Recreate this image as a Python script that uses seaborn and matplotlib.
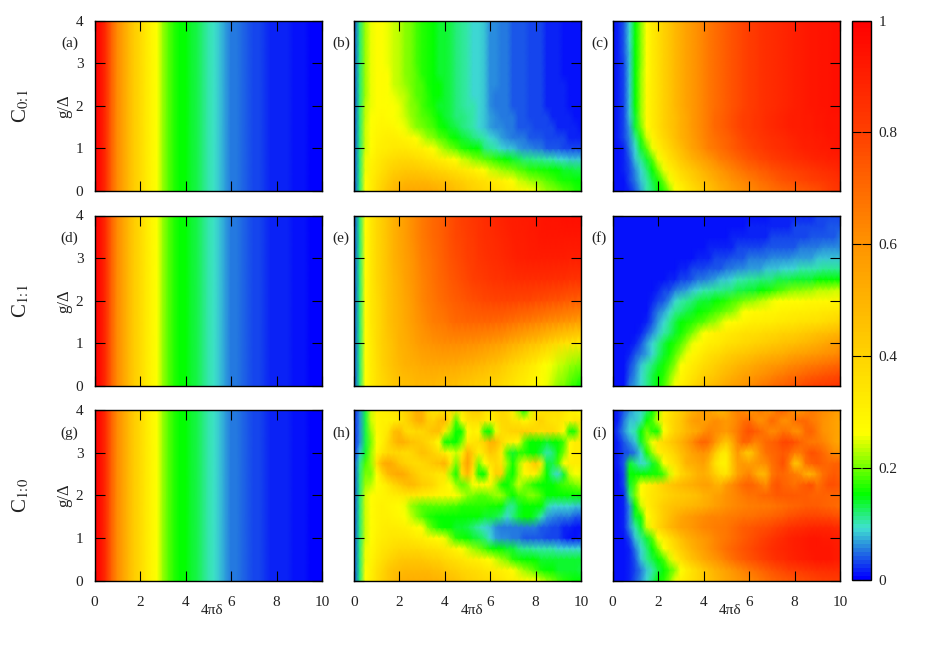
import numpy as np
import matplotlib
matplotlib.use("Agg")
import matplotlib.pyplot as plt
from matplotlib.colors import LinearSegmentedColormap
import seaborn as sns

# all maps are in percent, rows go g = 0 -> 4, columns go 4*pi*delta = 0 -> 10 in steps of 0.25
panel_adg = [100,95,85,72,62,55,48,42,38,33, 29,26,22,19,17,15.5,15,14,13,12,
             10.5,9.5,8.5,7,5.5,5,4.5,4,3.5,3, 2.5,2,2,1.5,1.5,1,1,1,.5,.5, .5]

top_b = [3,12,22,25,27,26,25,24,23,21, 20,18,17,16,15,14,14,13,12,11, 10,9,9,8,6,6,5,5,4,4, 4,3,3,3,2,2,2,1,1,1, 1]
panel_b = [
    [3,12,26,32,37,41,45,48,51,53, 54,54,54,54,53,52,51,49,47,45, 43,41,40,38,37,35,34,32,31,29, 28,26,25,23,22,21,20,19,18,17, 16],
    [3,12,26,31,35,39,42,45,47,48, 49,49,49,48,47,46,45,44,42,41, 39,38,36,35,33,32,30,28,26,24, 23,22,21,20,19,18,17,16,16,15, 15],
    [3,12,25,30,33,36,39,41,42,43, 43,43,42,41,40,39,38,36,35,33, 32,30,28,26,24,23,22,21,20,19, 18,17,17,16,16,15,15,14,14,13, 13],
    [3,12,25,29,32,34,36,37,38,38, 38,37,36,34,33,31,30,28,26,24, 23,21,20,19,18,17,16,15,14,13, 12,12,11,11,10,10,9,9,8,8, 8],
    [3,12,24,27,30,31,32,33,33,33, 32,31,30,28,26,24,22,20,19,17, 16,15,15,12,11,10,9,8,8,7, 6,6,5,5,4,4,4,3,3,3, 3],
    [3,12,24,27,29,30,31,31,30,29, 28,26,24,22,21,19,18,16,15,14, 13,12,11,10,9,8,7,6,5,5, 5,4,4,4,3,3,3,3,2,2, 2],
    [3,12,24,26,28,29,29,28,26,25, 23,21,20,19,18,16,15,14,13,12, 11,10,9,8,7,6,6,5,5,4, 4,4,3,3,3,3,2,2,2,2, 1],
    [3,12,23,26,27,28,27,26,25,24, 22,20,19,18,17,15,14,13,12,12, 11,10,9,8,7,6,5,5,5,4, 4,3,3,3,3,2,2,2,2,1, 1],
    [3,12,23,25,27,27,27,26,25,23, 21,20,18,17,16,14,14,13,12,11, 10,10,9,8,6,5,5,5,4,4, 4,3,3,3,2,2,2,2,1,1, 1],
    [3,12,22,25,27,27,26,25,24,23, 21,19,18,17,15,15,14,13,12,11, 10,9,9,8,6,5,5,5,4,4, 4,3,3,3,2,2,2,2,1,1, 1],
    [3,12,22,25,27,27,26,24,23,22, 20,19,18,16,15,15,14,13,12,11, 10,9,9,8,6,6,5,5,4,4, 4,3,3,3,2,2,2,2,1,1, 1],
    [3,12,22,25,27,27,26,24,23,21, 20,19,17,16,15,14,14,13,12,11, 10,9,9,8,6,6,5,5,4,4, 4,3,3,3,2,2,2,1,1,1, 1],
    top_b, top_b, top_b, top_b, top_b,
]

tail_c = [44,48,52,55,58,61,64,67,69,71, 73,75,77,79,81,82,84,85,86,87, 88,89,90,91,92,93,93,94,94,95, 95]
panel_c = [
    [1,1,1,2,4,7,10,12,15,17, 21,26,29,33,36,39,42,45,48,51, 54,56,58,60,62,63,65,66,68,69, 70,71,72,73,74,75,76,78,80,82, 83],
    [1,1,1,3,5,8,10,13,16,20, 25,30,34,37,40,43,46,49,52,55, 57,60,62,63,65,67,69,70,72,74, 75,76,77,78,79,80,81,82,83,84, 85],
    [1,1,2,3,6,9,12,15,20,25, 30,34,38,41,44,47,50,53,56,59, 62,64,66,68,70,71,73,74,76,77, 78,79,80,81,82,83,84,85,86,87, 88],
    [1,1,2,4,8,11,14,19,25,30, 35,39,43,47,50,53,56,59,62,65, 67,69,71,73,75,76,78,79,81,82, 83,84,85,86,87,88,89,89,90,90, 91],
    [1,1,2,5,9,14,19,25,30,35, 39,43,47,51,55,58,62,65,67,69, 71,73,75,77,78,80,81,83,84,85, 86,87,88,89,90,90,91,92,92,93, 93],
    [1,2,3,6,11,17,24,29,34,38, 42,46,50,53,57,60,63,66,68,70, 72,74,76,78,80,81,83,84,85,86, 87,88,89,90,91,91,92,92,93,93, 94],
    [1,2,3,7,14,20,27,32,36,40, 44,47,51,54,58,61,64,67,70,72, 74,76,78,80,81,83,84,86,87,88, 89,90,91,91,92,92,93,93,94,94, 94],
    [1,2,3,8,14,22,28,32,36,40, 44,47,51,54,58,61,64,67,70,72, 74,76,78,80,81,83,84,86,87,88, 89,90,91,91,92,92,93,93,94,94, 94],
    [1,2,3,8,15,22,28,32,36,40] + tail_c,
    [1,2,3,8,15,22,28,32,36,40] + tail_c,
    [1,2,3,8,15,22,28,32,36,40] + tail_c,
    [1,2,3,8,15,22,27,32,36,40] + tail_c,
    [1,2,3,8,15,21,27,32,36,40] + tail_c,
    [1,2,4,8,15,21,27,32,36,40] + tail_c,
    [1,2,4,9,15,21,27,32,36,40] + tail_c,
    [1,2,4,9,15,21,27,32,36,40] + tail_c,
    [1,2,4,9,15,21,27,32,36,40] + tail_c,
]

panel_e = [
    [3,12,26,31,35,38,41,43,45,46, 47,48,48,48,48,47,47,46,45,44, 43,42,41,40,39,38,37,35,34,32, 31,29,28,26,25,23,21,20,18,17, 15],
    [3,12,26,32,36,40,43,46,48,50, 51,52,53,54,54,54,54,53,53,52, 51,50,49,48,46,45,43,41,39,37, 35,33,31,28,26,25,24,23,22,21, 20],
    [3,12,27,32,37,41,44,47,50,52, 54,56,58,59,60,61,62,62,62,62, 61,61,60,59,58,57,56,54,52,50, 48,46,45,43,41,39,37,35,34,33, 32],
    [3,12,27,33,37,41,45,48,50,53, 56,59,61,63,65,66,67,69,70,70, 71,71,71,71,71,70,70,69,68,67, 66,65,64,63,62,61,60,59,58,57, 55],
    [3,12,27,33,37,41,45,48,51,54, 57,60,63,65,67,69,70,72,73,74, 75,76,77,78,78,79,79,79,79,78, 78,78,77,77,76,75,75,74,73,73, 72],
    [3,12,27,33,38,42,45,49,52,55, 58,61,64,66,68,70,72,74,75,77, 78,80,81,82,83,84,84,85,85,86, 86,86,86,86,86,85,85,85,84,84, 84],
    [3,12,27,33,38,42,46,50,53,56, 59,62,65,67,69,71,73,75,77,78, 80,81,83,84,85,86,87,88,89,90, 90,91,91,91,91,91,91,91,90,90, 90],
    [3,12,27,33,38,42,46,50,54,57, 60,63,66,68,70,72,74,76,78,79, 81,82,84,85,86,87,88,89,90,91, 91,92,92,93,93,93,93,93,93,93, 93],
    [3,12,27,33,38,42,46,50,54,57, 60,63,66,68,70,72,74,76,78,80, 81,83,84,86,87,88,89,90,91,91, 92,92,93,93,94,94,94,95,95,95, 95],
]

panel_f = [
    [1,1,1,5,7,9,11,13,15,18, 22,26,30,33,37,40,43,46,48,50, 53,55,57,59,61,63,65,67,69,70, 72,73,75,76,78,79,80,81,82,83, 84],
    [1,1,1,4,6,9,11,13,15,17, 20,24,28,31,34,37,40,42,44,47, 49,51,53,55,57,59,60,62,63,65, 66,68,69,70,72,73,74,75,76,77, 78],
    [1,1,1,3,5,8,10,12,14,16, 18,21,26,29,32,34,37,39,41,43, 45,47,49,50,52,54,55,57,58,59, 60,62,63,64,65,66,67,68,69,70, 71],
    [1,1,1,2,4,5,7,9,12,14, 16,19,22,25,28,30,33,35,37,38, 40,42,43,44,45,47,48,49,50,51, 52,54,55,56,57,58,59,60,61,62, 64],
    [1,1,1,1,2,4,7,9,11,13, 15,17,19,22,25,27,29,31,32,33, 35,36,37,38,39,40,41,42,43,44, 45,46,47,48,49,50,52,53,55,56, 58],
    [1,1,1,1,1,2,4,6,8,10, 12,14,16,18,20,23,26,28,30,31, 32,33,34,35,36,36,37,38,38,39, 40,40,41,42,43,44,45,46,47,48, 49],
    [1,1,1,1,1,1,2,4,7,9, 11,13,15,16,17,18,19,21,22,24, 26,27,28,29,30,31,31,32,32,33, 33,34,34,35,35,36,36,37,38,39, 40],
    [1,1,1,1,1,1,1,3,5,7, 9,11,12,13,14,15,16,17,18,19, 20,21,23,26,27,28,28,29,29,29, 30,30,31,31,31,32,32,33,33,34, 34],
    [1,1,1,1,1,1,1,2,3,4, 6,9,10,11,12,13,14,14,15,16, 17,18,19,20,21,22,23,24,25,26, 26,27,27,27,28,28,28,28,28,29, 29],
    [1,1,1,1,1,1,1,1,2,3, 3,5,6,7,8,9,10,10,11,11, 12,12,13,13,14,14,15,16,17,18, 19,20,21,21,22,22,23,23,23,24, 24],
    [1,1,1,1,1,1,1,1,1,1, 2,2,3,3,4,5,5,6,7,8, 8,9,10,10,11,11,12,12,12,13, 13,13,14,14,14,14,15,15,15,15, 15],
    [1,1,1,1,1,1,1,1,1,1, 1,1,2,2,3,3,3,4,4,4, 5,5,6,6,7,7,7,8,8,8, 9,9,9,10,10,10,10,11,11,11, 11],
    [1,1,1,1,1,1,1,1,1,1, 1,1,1,1,1,2,2,2,3,3, 3,4,4,4,5,5,5,5,6,6, 6,6,7,7,7,7,8,8,8,8, 8],
    [1,1,1,1,1,1,1,1,1,1, 1,1,1,1,1,1,1,2,2,2, 2,2,3,3,3,3,3,4,4,4, 4,4,4,5,5,5,5,6,6,6, 6],
    [1,1,1,1,1,1,1,1,1,1, 1,1,1,1,1,1,1,1,1,1, 1,2,2,2,2,2,2,2,3,3, 3,3,3,3,3,4,4,4,4,4, 5],
    [1,1,1,1,1,1,1,1,1,1, 1,1,1,1,1,1,1,1,1,1, 1,1,1,1,2,2,2,2,2,2, 2,2,3,3,3,3,3,3,4,4, 4],
    [1,1,1,1,1,1,1,1,1,1, 1,1,1,1,1,1,1,1,1,1, 1,1,1,1,1,1,1,1,2,2, 2,2,2,2,2,2,3,3,3,3, 3],
]

panel_h = [
    [3,12,26,31,36,40,44,47,50,51, 52,52,52,52,51,50,49,47,45,43, 41,40,39,38,37,35,34,32,31,30, 28,27,26,24,22,20,18,17,16,15, 15],
    [3,12,26,30,35,39,43,45,47,48, 48,48,48,48,47,46,44,42,41,39, 38,37,36,34,33,32,30,29,27,24, 22,20,18,16,15,15,14,14,14,14, 13],
    [3,12,25,29,33,36,39,41,43,44, 44,44,43,42,41,40,38,37,35,34, 32,31,30,28,26,24,22,20,17,16, 15,15,15,14,14,14,14,14,14,14, 14],
    [3,12,25,28,31,34,35,37,38,38, 38,38,37,36,35,34,33,31,29,26, 24,22,20,18,16,15,15,14,14,12, 11,11,10,10,10,10,9,9,9,9, 9],
    [3,12,24,27,30,32,33,34,34,34, 33,32,31,29,28,27,25,21,17,16, 15,14,13,12,9,7,6,6,5,5, 4,4,4,4,3,3,3,2,1,1, 2],
    [3,12,24,27,29,31,32,32,31,30, 29,27,26,21,18,16,15,15,14,14, 13,12,10,9,8,6,5,5,5,5, 5,5,5,4,4,3,3,2,2,1, 1],
    [3,12,24,27,29,30,30,29,28,26, 24,21,19,17,16,15,15,15,15,15, 15,15,15,14,14,13,12,9,12,14, 15,15,13,10,7,6,5,5,5,4, 4],
    [3,12,24,27,29,30,29,28,27,25, 22,20,19,19,19,19,19,18,18,17, 17,17,17,17,16,16,15,12,11,14, 15,15,15,15,11,9,9,9,9,8, 8],
    [3,12,24,27,28,29,30,31,32,33, 33,33,32,31,30,29,29,28,27,24, 21,20,19,19,20,22,22,18,15,18, 19,21,20,18,15,15,15,15,15,15, 15],
    [3,12,22,23,26,29,33,38,42,46, 48,46,42,40,38,33,30,26,22,19, 21,26,28,27,29,22,16,15,19,24, 20,18,16,15,15,15,17,18,19,20, 22],
    [3,12,20,20,26,38,48,52,54,52, 46,42,38,37,35,33,34,22,16,36, 48,32,16,15,28,40,40,18,15,22, 28,30,30,22,15,11,9,14,24,26, 25],
    [3,11,18,22,36,50,54,50,44,40, 38,37,38,40,44,46,50,34,20,40, 56,38,20,26,34,38,34,22,16,22, 30,36,44,32,14,13,18,27,31,32, 32],
    [2,8,14,22,28,34,38,38,38,37, 38,42,46,44,40,36,32,26,24,30, 50,40,30,36,44,40,32,18,14,17, 17,15,15,13,10,12,16,20,28,32, 32],
    [2,6,13,20,26,30,38,46,52,50, 46,44,42,38,34,26,16,16,15,20, 32,34,36,40,50,48,38,32,30,28, 19,15,15,15,14,15,15,18,28,32, 32],
    [2,6,13,22,28,30,34,46,48,38, 36,38,38,42,46,46,32,22,15,16, 26,30,28,17,15,25,36,38,40,40, 42,40,38,36,38,38,34,28,16,17, 30],
    [2,6,13,24,28,30,30,31,34,38, 44,50,52,42,40,46,48,34,18,28, 34,36,36,34,30,34,38,38,34,34, 28,32,36,40,36,34,34,32,30,34, 32],
    [2,6,13,24,30,30,32,34,36,40, 44,52,50,38,34,34,34,36,34,32, 38,42,42,36,32,36,38,36,30,22, 15,24,34,34,36,36,36,34,30,28, 26],
]

panel_i = [
    [1,1,1,2,4,6,9,12,15,17, 20,25,30,33,36,39,42,45,48,51, 54,56,58,60,62,64,66,68,70,72, 73,74,75,76,77,78,79,80,80,81, 81],
    [1,1,1,2,3,5,8,10,13,15, 18,21,26,31,35,39,43,47,50,53, 56,59,62,64,67,69,71,73,75,77, 78,80,81,82,83,84,85,85,86,86, 86],
    [1,1,1,2,4,8,11,13,15,18, 24,30,36,41,45,49,53,56,59,62, 65,68,71,73,75,77,79,81,83,85, 86,88,89,90,91,92,93,93,93,92, 91],
    [1,1,1,2,5,9,12,15,20,26, 32,37,42,46,50,54,57,60,63,66, 69,71,73,75,77,79,81,83,85,87, 88,89,90,91,92,93,93,93,93,92, 91],
    [1,1,1,3,8,11,14,19,26,31, 36,41,46,50,53,56,58,60,63,65, 67,69,71,73,75,77,79,81,83,85, 87,89,90,91,92,93,93,92,92,91, 90],
    [1,1,2,6,10,14,24,32,38,43, 48,52,55,57,59,61,63,64,65,66, 67,69,71,73,74,75,76,77,78,80, 82,84,85,86,87,88,88,88,88,87, 86],
    [1,1,2,6,14,16,26,32,37,42, 46,50,54,57,58,60,62,63,64,64, 65,66,67,68,68,69,70,71,72,73, 74,76,77,78,79,79,79,78,78,77, 76],
    [1,1,2,6,15,24,30,34,38,42, 44,46,47,48,49,50,52,54,56,58, 60,62,63,64,65,65,66,66,67,68, 69,70,71,72,73,73,73,72,71,70, 69],
    [1,1,2,12,20,27,31,34,36,38, 40,42,43,44,45,47,50,52,55,57, 60,62,64,66,68,68,70,71,72,74, 74,74,74,73,73,72,72,72,71,71, 70],
    [1,1,3,14,19,26,30,33,37,40, 43,46,48,50,52,54,56,56,52,50, 58,62,66,70,72,70,66,62,72,75, 72,70,68,72,74,76,68,72,76,76, 74],
    [1,1,3,15,15,15,15,16,16,18, 24,30,38,42,46,50,52,48,42,36, 34,44,55,60,64,56,48,50,66,70, 70,68,66,62,52,50,60,68,72,74, 72],
    [1,2,4,14,12,9,10,14,18,26, 32,36,42,50,52,54,56,48,36,30, 30,44,56,58,56,58,60,62,68,72, 76,66,44,50,68,72,74,72,70,72, 72],
    [1,2,3,4,5,9,16,22,30,33, 36,40,46,50,55,58,60,56,44,34, 32,46,58,48,42,52,62,68,70,72, 74,72,66,66,72,76,74,70,66,62, 60],
    [1,2,4,6,8,14,20,26,34,38, 42,46,50,56,62,68,72,68,60,50, 44,52,64,72,70,64,66,70,72,74, 78,78,76,72,68,66,66,64,60,56, 54],
    [1,3,6,9,10,15,20,17,16,26, 34,40,44,48,52,54,60,64,62,60, 58,62,66,72,76,74,70,66,62,64, 68,66,60,62,70,72,66,60,58,56, 54],
    [1,2,5,8,8,10,15,18,24,32, 36,40,44,50,56,58,56,58,62,60, 58,60,64,68,70,64,60,64,70,66, 60,62,68,70,70,66,64,60,58,56, 54],
    [1,2,4,6,8,9,12,15,22,30, 34,38,42,46,50,54,58,56,50,48, 52,60,64,62,58,62,66,62,60,68, 72,66,60,58,62,66,64,62,60,58, 56],
]

panel_names = ['(a)', '(b)', '(c)', '(d)', '(e)', '(f)', '(g)', '(h)', '(i)']
row_names = ['C$_{0\\!:\\!1}$', 'C$_{1\\!:\\!1}$', 'C$_{1\\!:\\!0}$']
x_ticks = [0, 2, 4, 6, 8, 10]
y_ticks = [0, 1, 2, 3, 4]
cbar_ticks = [0, 0.2, 0.4, 0.6, 0.8, 1]
cbar_labels = ['0', '0.2', '0.4', '0.6', '0.8', '1']

palette = LinearSegmentedColormap.from_list('fid', [
    (0.0, (0, 0, 1)),
    (0.05, (0.14, 0.47, 0.88)),
    (0.09, (0.25, 0.88, 0.82)),
    (0.15, (0, 1, 0)),
    (0.26, (1, 1, 0)),
    (0.60, (1, 0.58, 0)),
    (0.80, (1, 0.25, 0)),
    (1.0, (1, 0, 0)),
], N=140)

sns.set_theme(style='white')
plt.rcParams['font.family'] = ['Liberation Serif', 'DejaVu Serif']
plt.rcParams['mathtext.fontset'] = 'stix'

W, H = 926, 649
fig = plt.figure(figsize=(W / 100, H / 100), dpi=100, facecolor='white')


def px_axes(x0, x1, y0, y1):
    return fig.add_axes([x0 / W, 1 - y1 / H, (x1 - x0) / W, (y1 - y0) / H])


col_px = [(94.5, 322), (354, 581), (612.5, 840)]
row_px = [(20.5, 191), (215.5, 386), (410, 580.5)]
label_shift = [25, 13, 13]
maps = [[panel_adg, panel_adg], panel_b, panel_c,
        [panel_adg, panel_adg], panel_e, panel_f,
        [panel_adg, panel_adg], panel_h, panel_i]
cax = px_axes(852, 870.5, 20.5, 580)
cb = None

for n, values in enumerate(maps):
    r, c = divmod(n, 3)
    ax = px_axes(*col_px[c], *row_px[r])
    data = np.array(values) / 100
    nrows, ncols = data.shape
    sns.heatmap(data, ax=ax, cmap=palette, vmin=0, vmax=1, shading='gouraud',
                xticklabels=False, yticklabels=False,
                cbar=n == 0, cbar_ax=cax if n == 0 else None)
    if n == 0:
        cb = ax.collections[0].colorbar
    ax.set_axisbelow(False)
    ax.set_xlim(0, ncols - 1)
    ax.set_ylim(0, nrows - 1)
    ax.set_xticks([t / 10 * (ncols - 1) for t in x_ticks])
    ax.set_yticks([t / 4 * (nrows - 1) for t in y_ticks])
    ax.set_xticklabels(x_ticks if r == 2 else [])
    ax.set_yticklabels(y_ticks if c == 0 else [])
    ax.tick_params(axis='both', which='major', direction='in', length=7.2, width=0.8,
                   color='black', top=True, right=True, bottom=True, left=True,
                   labelsize=11, labelcolor='#222222')
    ax.tick_params(axis='x', pad=11)
    ax.tick_params(axis='y', pad=8, labelrotation=0)
    for spine in ax.spines.values():
        spine.set_visible(True)
        spine.set_color('black')
        spine.set_linewidth(1.0)
    fig.text((col_px[c][0] - label_shift[c]) / W, (H - row_px[r][0] - 23) / H, panel_names[n],
             fontsize=11, ha='center', va='center', color='#222222')
    if c == 0:
        fig.text(64 / W, (H - sum(row_px[r]) / 2) / H, 'g/\u0394', rotation=90,
                 fontsize=12, ha='center', va='center', color='#222222')
        fig.text(21 / W, (H - sum(row_px[r]) / 2) / H, row_names[r], rotation=90,
                 fontsize=15, ha='center', va='center', color='#222222')
    if r == 2:
        fig.text((col_px[c][0] + 118) / W, (H - 610) / H, '4\u03c0\u03b4',
                 fontsize=11, ha='center', va='center', color='#222222')

cb.set_ticks(cbar_ticks, labels=cbar_labels)
cb.outline.set_visible(True)
cb.outline.set_edgecolor('black')
cb.outline.set_linewidth(1.0)
cax.set_axisbelow(False)
cax.tick_params(axis='y', direction='in', length=6.3, width=0.8, color='black',
                left=True, right=True, labelsize=11, labelcolor='#222222', pad=6)

fig.savefig('out.png', dpi=100)
